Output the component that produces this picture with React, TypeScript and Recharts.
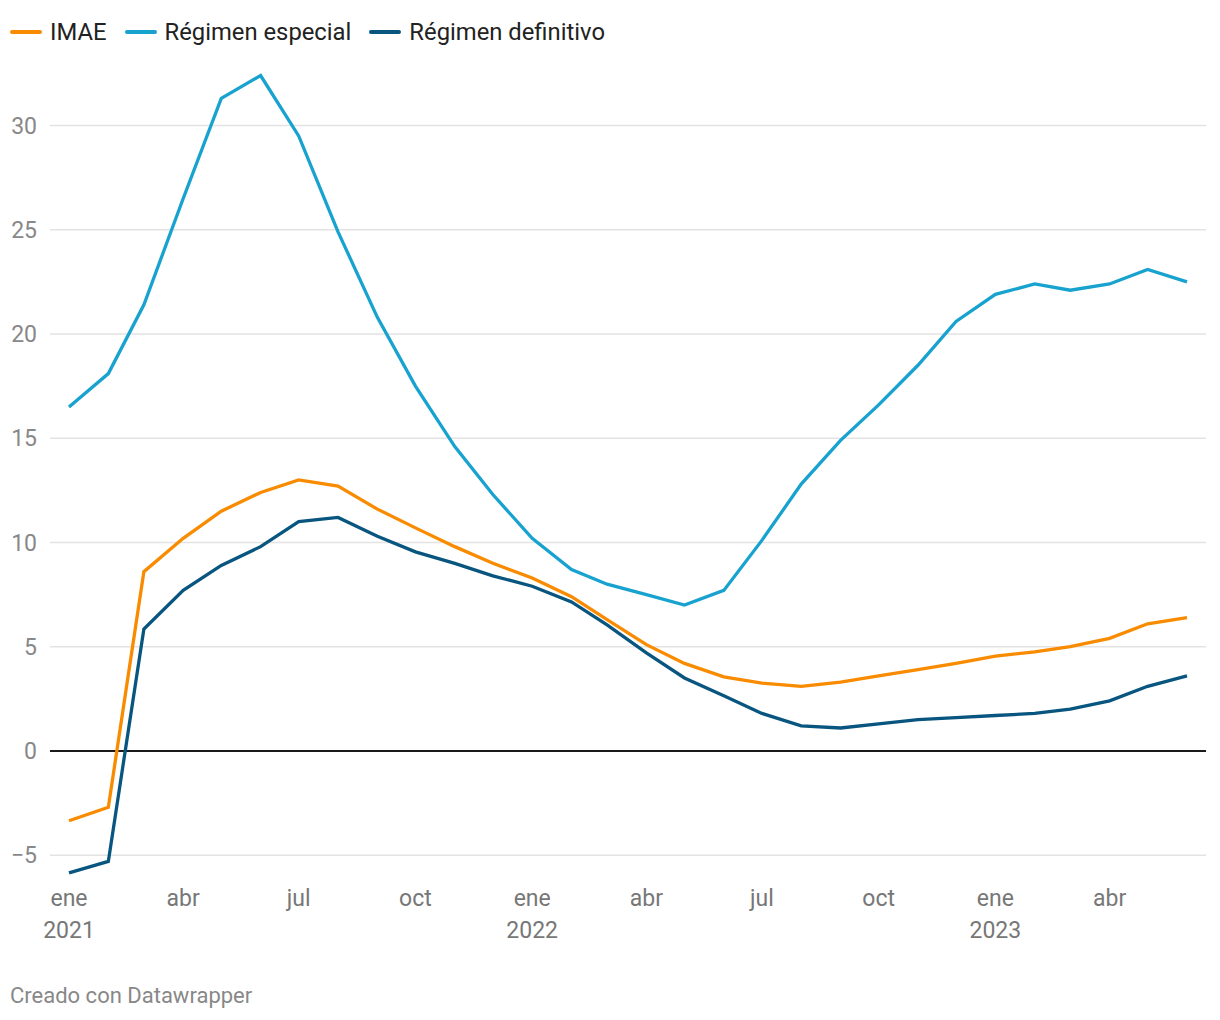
import React from "react";
import { LineChart, Line, CartesianGrid, XAxis, YAxis, ReferenceLine } from "recharts";

const months = [
  "2021-01", "2021-02", "2021-03", "2021-04", "2021-05", "2021-06",
  "2021-07", "2021-08", "2021-09", "2021-10", "2021-11", "2021-12",
  "2022-01", "2022-02", "2022-03", "2022-04", "2022-05", "2022-06",
  "2022-07", "2022-08", "2022-09", "2022-10", "2022-11", "2022-12",
  "2023-01", "2023-02", "2023-03", "2023-04", "2023-05", "2023-06",
];

const imae = [
  -3.35, -2.7, 8.6, 10.2, 11.5, 12.4, 13.0, 12.7, 11.6, 10.7, 9.8, 9.0,
  8.3, 7.4, 6.3, 5.1, 4.2, 3.55, 3.25, 3.1, 3.3, 3.6, 3.9, 4.2,
  4.55, 4.75, 5.0, 5.4, 6.1, 6.4,
];

const especial = [
  16.5, 18.1, 21.4, 26.5, 31.3, 32.4, 29.5, 24.9, 20.8, 17.5, 14.6, 12.3,
  10.2, 8.7, 8.0, 7.5, 7.0, 7.7, 10.1, 12.8, 14.9, 16.6, 18.5, 20.6,
  21.9, 22.4, 22.1, 22.4, 23.1, 22.5,
];

const definitivo = [
  -5.85, -5.3, 5.85, 7.7, 8.9, 9.8, 11.0, 11.2, 10.3, 9.55, 9.0, 8.4,
  7.9, 7.15, 6.05, 4.7, 3.5, 2.65, 1.8, 1.2, 1.1, 1.3, 1.5, 1.6,
  1.7, 1.8, 2.0, 2.4, 3.1, 3.6,
];

const tickLabels: Record<string, string[]> = {
  "2021-01": ["ene", "2021"],
  "2021-04": ["abr"],
  "2021-07": ["jul"],
  "2021-10": ["oct"],
  "2022-01": ["ene", "2022"],
  "2022-04": ["abr"],
  "2022-07": ["jul"],
  "2022-10": ["oct"],
  "2023-01": ["ene", "2023"],
  "2023-04": ["abr"],
};

const yTicks = [-5, 0, 5, 10, 15, 20, 25, 30];

const series = [
  { key: "imae", name: "IMAE", color: "#f98b00" },
  { key: "especial", name: "Régimen especial", color: "#18a2cf" },
  { key: "definitivo", name: "Régimen definitivo", color: "#08557f" },
];

const toTime = (m: string) => {
  const [y, mo] = m.split("-").map(Number);
  return Date.UTC(y, mo - 1, 1);
};

const data = months.map((m, i) => ({
  t: toTime(m),
  imae: imae[i],
  especial: especial[i],
  definitivo: definitivo[i],
}));

const xTicks = Object.keys(tickLabels).map(toTime);
const labelByTime: Record<number, string[]> = {};
Object.keys(tickLabels).forEach((k) => {
  labelByTime[toTime(k)] = tickLabels[k];
});

const FONT = "Roboto, 'Noto Sans', sans-serif";

const MonthTick = (props: any) => {
  const { x, y, payload } = props;
  const lines = labelByTime[payload.value];
  if (!lines) return null;
  return (
    <g>
      {lines.map((t, i) => (
        <text
          key={i}
          x={x}
          y={y + 22 + i * 32}
          textAnchor="middle"
          fill="#777"
          fontSize={23}
          fontFamily={FONT}
        >
          {t}
        </text>
      ))}
    </g>
  );
};

export default function App() {
  return (
    <div style={{ position: "absolute", left: 0, top: 0, width: 1220, height: 1020, background: "#fff" }}>
      <LineChart width={1220} height={1020} data={data} margin={{ top: 63, right: 14, bottom: 143, left: 0 }}>
        <CartesianGrid vertical={false} horizontalValues={yTicks} stroke="#e3e3e3" strokeWidth={1.5} />
        <XAxis
          dataKey="t"
          type="number"
          scale="linear"
          domain={["dataMin", "dataMax"]}
          ticks={xTicks}
          interval={0}
          padding={{ left: 19, right: 19 }}
          axisLine={false}
          tickLine={false}
          tick={<MonthTick />}
          height={1}
        />
        <YAxis
          domain={[-6, 33]}
          ticks={yTicks}
          width={50}
          axisLine={false}
          tickLine={false}
          tickSize={0}
          tickMargin={13}
          tickFormatter={(v: number) => (v < 0 ? "\u2212" + Math.abs(v) : String(v))}
          tick={{ fill: "#888", fontSize: 23, fontFamily: FONT }}
        />
        <ReferenceLine y={0} stroke="#1a1a1a" strokeWidth={2} />
        {series.map((s) => (
          <Line
            key={s.key}
            type="linear"
            dataKey={s.key}
            name={s.name}
            stroke={s.color}
            strokeWidth={3.3}
            dot={false}
            isAnimationActive={false}
          />
        ))}
      </LineChart>
      <div
        style={{
          position: "absolute",
          left: 10,
          top: 17,
          display: "flex",
          alignItems: "center",
          fontFamily: FONT,
          fontSize: 23.8,
          color: "#222",
          lineHeight: "30px",
        }}
      >
        {series.map((s) => (
          <div key={s.key} style={{ display: "flex", alignItems: "center", marginRight: 18 }}>
            <span style={{ display: "inline-block", width: 32, height: 4, borderRadius: 2, background: s.color, marginRight: 8 }} />
            <span>{s.name}</span>
          </div>
        ))}
      </div>
      <div style={{ position: "absolute", left: 10, top: 983, fontFamily: FONT, fontSize: 22, color: "#888" }}>
        Creado con Datawrapper
      </div>
    </div>
  );
}
